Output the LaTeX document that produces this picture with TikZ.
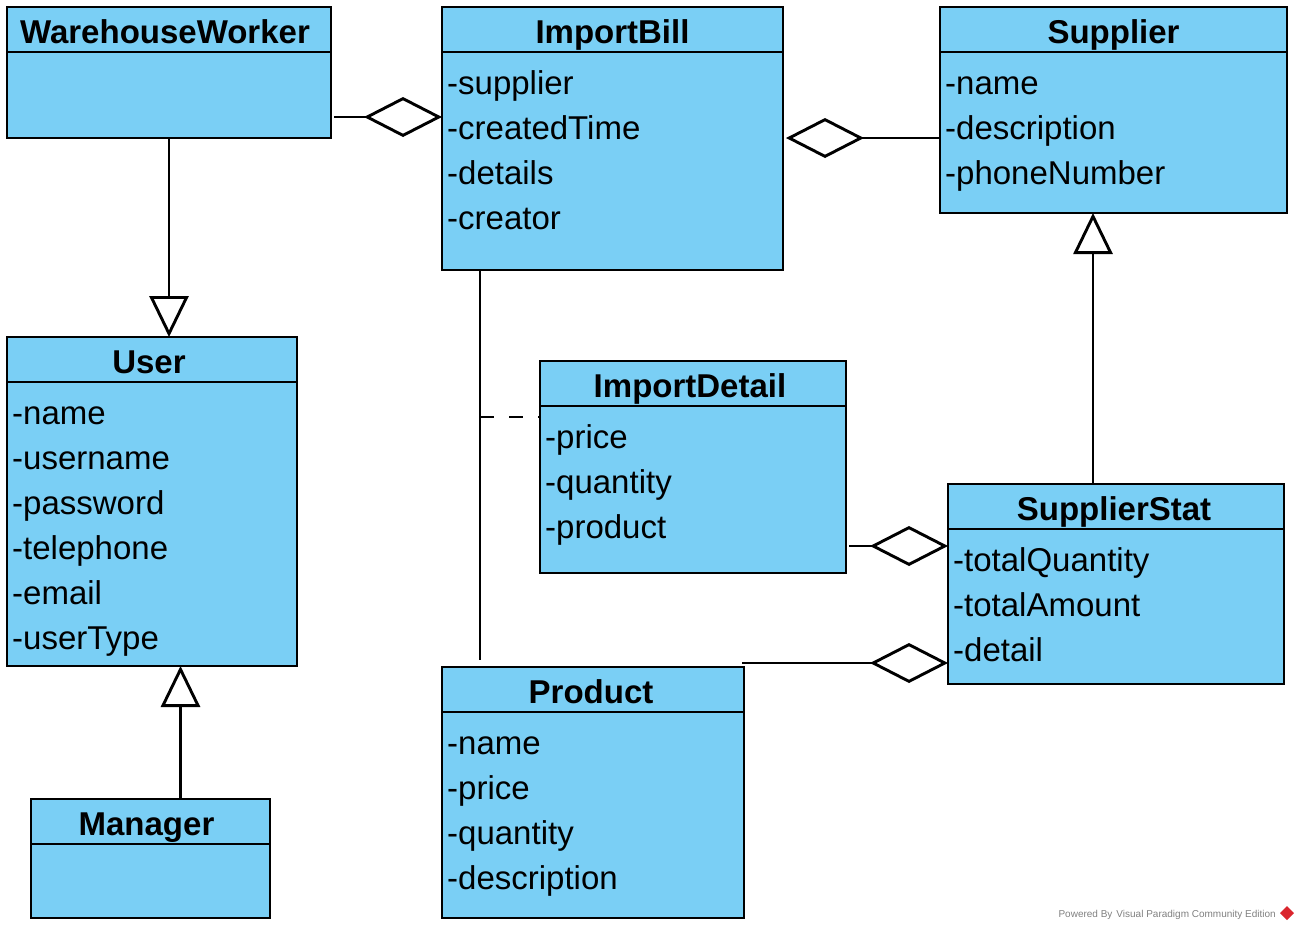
\documentclass[tikz,border=0pt]{standalone}
\usepackage{fontspec}
\setmainfont{Liberation Sans}
\usetikzlibrary{arrows.meta}
\definecolor{umlfill}{RGB}{122,207,245}
\definecolor{vpgray}{RGB}{128,128,128}
\definecolor{vpred}{RGB}{218,37,45}
\begin{document}
\begin{tikzpicture}[x=1pt,y=-1pt,
 cls/.style={draw=black, fill=umlfill, line width=2.9pt, anchor=north west, inner sep=0pt, outer sep=0pt},
 ttl/.style={anchor=base, inner sep=0pt, font=\fontsize{33}{40}\selectfont\bfseries},
 attr/.style={anchor=base west, inner sep=0pt, font=\fontsize{33}{40}\selectfont},
 sep/.style={line width=2.9pt},
 link/.style={line width=2.9pt},
 gen/.style={link, -{Triangle[open, fill=white, length=41pt, width=39pt]}},
 agg/.style={link, -{Diamond[open, fill=white, length=78pt, width=40pt]}},
]
\useasboundingbox (0,0) rectangle (1299,930);

% class boxes
\node[cls, minimum width=324pt, minimum height=131pt] (ww) at (7,7) {};
\node[cls, minimum width=341pt, minimum height=263pt] (ib) at (442,7) {};
\node[cls, minimum width=347pt, minimum height=206pt] (sup) at (940,7) {};
\node[cls, minimum width=290pt, minimum height=329pt] (user) at (7,337) {};
\node[cls, minimum width=239pt, minimum height=119pt] (mgr) at (31,799) {};
\node[cls, minimum width=306pt, minimum height=212pt] (idt) at (540,361) {};
\node[cls, minimum width=336pt, minimum height=200pt] (ss) at (948,484) {};
\node[cls, minimum width=302pt, minimum height=251pt] (prod) at (442,667) {};

% header separators
\draw[sep] (ww.north west) ++(0,45) -- ++(324,0);
\draw[sep] (ib.north west) ++(0,45) -- ++(341,0);
\draw[sep] (sup.north west) ++(0,45) -- ++(347,0);
\draw[sep] (user.north west) ++(0,45) -- ++(290,0);
\draw[sep] (mgr.north west) ++(0,45) -- ++(239,0);
\draw[sep] (idt.north west) ++(0,45) -- ++(306,0);
\draw[sep] (ss.north west) ++(0,45) -- ++(336,0);
\draw[sep] (prod.north west) ++(0,45) -- ++(302,0);

% titles
\node[ttl] (ww-t) at ([xshift=-4pt, yshift=-36pt]ww.north) {WarehouseWorker};
\node[ttl] (ib-t) at ([yshift=-36pt]ib.north) {ImportBill};
\node[ttl] (sup-t) at ([yshift=-36pt]sup.north) {Supplier};
\node[ttl] (user-t) at ([xshift=-3pt, yshift=-36pt]user.north) {User};
\node[ttl] (mgr-t) at ([xshift=-4pt, yshift=-36pt]mgr.north) {Manager};
\node[ttl] (idt-t) at ([xshift=-3pt, yshift=-36pt]idt.north) {ImportDetail};
\node[ttl] (ss-t) at ([xshift=-2pt, yshift=-36pt]ss.north) {SupplierStat};
\node[ttl] (prod-t) at ([xshift=-2pt, yshift=-36pt]prod.north) {Product};

% attributes
\foreach \t [count=\i] in {-supplier,-createdTime,-details,-creator}
  \node[attr] (ib-\i) at ([xshift=5pt, yshift={-(87+45*(\i-1))*1pt}]ib.north west) {\t};
\foreach \t [count=\i] in {-name,-description,-phoneNumber}
  \node[attr] (sup-\i) at ([xshift=5pt, yshift={-(87+45*(\i-1))*1pt}]sup.north west) {\t};
\foreach \t [count=\i] in {-name,-username,-password,-telephone,-email,-userType}
  \node[attr] (user-\i) at ([xshift=5pt, yshift={-(87+45*(\i-1))*1pt}]user.north west) {\t};
\foreach \t [count=\i] in {-price,-quantity,-product}
  \node[attr] (idt-\i) at ([xshift=5pt, yshift={-(87+45*(\i-1))*1pt}]idt.north west) {\t};
\foreach \t [count=\i] in {-totalQuantity,-totalAmount,-detail}
  \node[attr] (ss-\i) at ([xshift=5pt, yshift={-(87+45*(\i-1))*1pt}]ss.north west) {\t};
\foreach \t [count=\i] in {-name,-price,-quantity,-description}
  \node[attr] (prod-\i) at ([xshift=5pt, yshift={-(87+45*(\i-1))*1pt}]prod.north west) {\t};

% generalizations
\draw[gen] (ww.south) -- (ww.south |- user.north);
\coordinate (mgrtop) at ([xshift=30pt]mgr.north);
\draw[gen] (mgrtop) -- (mgrtop |- user.south);
\coordinate (sstop) at ([xshift=-23pt]ss.north);
\draw[gen] (sstop) -- (sstop |- sup.south);

% aggregations
\coordinate (wwa) at (334,117);
\draw[agg] (wwa) -- (wwa -| ib.west);
\coordinate (supa) at (940,138);
\coordinate (iba) at (786,138);
\draw[agg] (supa) -- (iba);
\coordinate (idta) at (849,546);
\draw[agg] (idta) -- (idta -| ss.west);
\coordinate (proda) at (742,663);
\draw[agg] (proda) -- (proda -| ss.west);

% association ImportBill -- Product and association class link
\coordinate (ibp) at ([xshift=38pt]ib.south west);
\coordinate (prodtop) at ([yshift=7pt]prod.north);
\draw[link] (ibp) -- (ibp |- prodtop);
\coordinate (dsh) at (480,417);
\draw[link, dash pattern=on 14pt off 15pt] (dsh) -- (dsh -| idt.west);

% watermark
\node[anchor=base east, inner sep=0pt, font=\fontsize{10}{12}\selectfont, text=vpgray] (wm) at (1276,917) {Powered By\hspace{4pt}Visual Paradigm Community Edition};
\fill[vpred] (1287,906) -- (1294,913) -- (1287,920) -- (1280,913) -- cycle;
\end{tikzpicture}
\end{document}
